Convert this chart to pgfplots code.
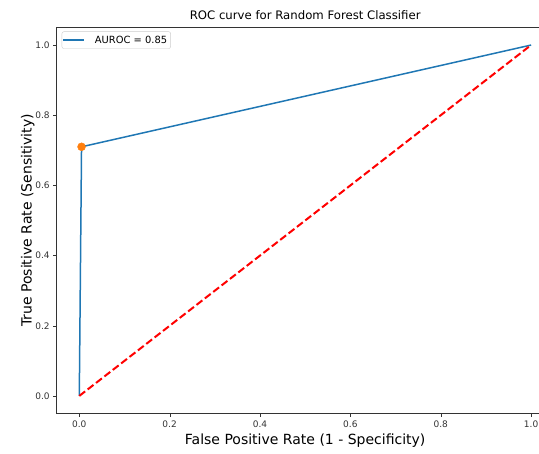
\documentclass[border=0pt]{standalone}
\usepackage{pgfplots}
\pgfplotsset{compat=1.18}
\usepackage{fontspec}
\setmainfont{DejaVu Sans}
\usetikzlibrary{calc}
\definecolor{mplblue}{HTML}{1F77B4}
\definecolor{mplorange}{HTML}{FF7F0E}
\begin{document}
\begin{tikzpicture}
\begin{axis}[
  name=ax,
  scale only axis,
  width=497pt, height=386pt,
  xmin=-0.05, xmax=1.05, ymin=-0.05, ymax=1.05,
  xtick={0,0.2,0.4,0.6,0.8,1.0},
  ytick={0,0.2,0.4,0.6,0.8,1.0},
  xticklabel style={/pgf/number format/.cd,fixed,fixed zerofill,precision=1},
  yticklabel style={/pgf/number format/.cd,fixed,fixed zerofill,precision=1},
  /pgf/number format/assume math mode=true,
  tick align=outside, tick pos=left,
  major tick length=3.5pt,
  tick style={black!80},
  tick label style={font=\fontsize{9}{11}\selectfont, color=black!80},
  title={ROC curve for Random Forest Classifier},
  title style={font=\fontsize{11.7}{14}\selectfont, yshift=-2pt},
  xlabel={False Positive Rate (1 - Specificity)},
  ylabel={True Positive Rate (Sensitivity)},
  label style={font=\fontsize{14}{16}\selectfont},
  ylabel style={yshift=-6pt},
  legend image code/.code={\draw[#1] (0pt,0pt) -- (21pt,0pt);},
  legend style={at={(0,1)}, anchor=north west, xshift=5pt, yshift=-4pt,
    font=\fontsize{9.9}{11}\selectfont, rounded corners=2pt, draw=black!20,
    inner xsep=0.5pt, inner ysep=1pt,
    nodes={inner xsep=3pt, inner ysep=3pt},
    /tikz/every odd column/.append style={column sep=7pt}},
  legend cell align=left,
  axis line style={draw=none},
  clip=false,
]
\draw[black!80, line width=0.8pt] (rel axis cs:0,1) -- (rel axis cs:0,0) -- (rel axis cs:1,0);
\draw[black!80, line width=0.8pt] (rel axis cs:0,1) -- (rel axis cs:1,1);
\addplot[mplblue, line width=1.5pt] coordinates {(0,0) (0.005,0.71) (1,1)};
\addlegendentry{AUROC = 0.85}
\addplot[red, line width=2pt, dash pattern=on 7.4pt off 3.2pt, forget plot] coordinates {(0,0) (1,1)};
\addplot[only marks, mark=*, mark size=4pt, mplorange, forget plot] coordinates {(0.005,0.71)};
\end{axis}
\pgfresetboundingbox
\useasboundingbox ($(ax.south west)+(-56.7pt,-40pt)$) rectangle ($(ax.north west)+(482.3pt,27.5pt)$);
\end{tikzpicture}
\end{document}
